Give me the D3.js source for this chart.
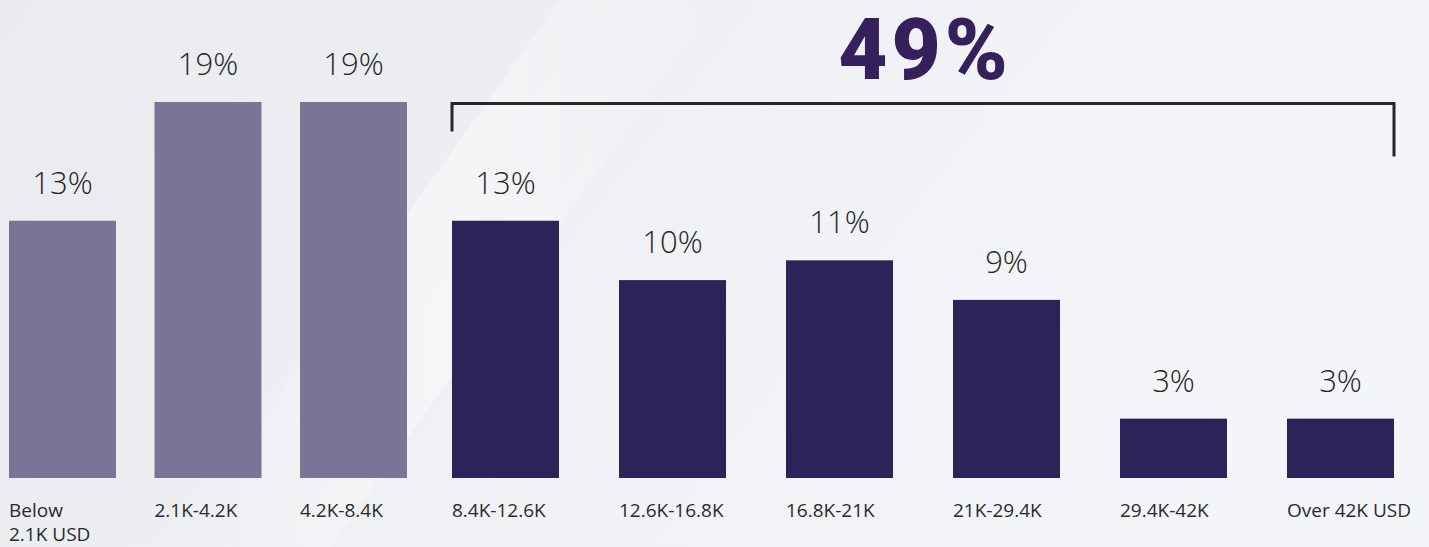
<!DOCTYPE html>
<html>
<head>
<meta charset="utf-8">
<script src="https://cdn.jsdelivr.net/npm/d3@7"></script>
<style>
  html, body { margin: 0; padding: 0; background: #eef0f3; }
  svg { display: block; }
</style>
</head>
<body>
<svg id="chart" width="1429" height="547"></svg>
<script>
// Income brackets (annual, USD) and share of respondents in each
const categories = ["Below|2.1K USD", "2.1K-4.2K", "4.2K-8.4K", "8.4K-12.6K", "12.6K-16.8K",
                    "16.8K-21K", "21K-29.4K", "29.4K-42K", "Over 42K USD"];
const shares = [13, 19, 19, 13, 10, 11, 9, 3, 3];
// Brackets from 8.4K upward are grouped together under the headline total
const highlighted = [false, false, false, true, true, true, true, true, true];
const groupTotal = "49%";

const W = 1429, H = 547;
const svg = d3.select("#chart");

// Background wash
const defs = svg.append("defs");
const bg = defs.append("linearGradient").attr("id", "bg")
  .attr("x1", "0%").attr("y1", "0%").attr("x2", "100%").attr("y2", "30%");
bg.append("stop").attr("offset", "0%").attr("stop-color", "#e9ebee");
bg.append("stop").attr("offset", "35%").attr("stop-color", "#eceef1");
bg.append("stop").attr("offset", "60%").attr("stop-color", "#f0f2f5");
bg.append("stop").attr("offset", "100%").attr("stop-color", "#f3f5f8");
svg.append("rect").attr("width", W).attr("height", H).attr("fill", "url(#bg)");

const streak = defs.append("linearGradient").attr("id", "streak")
  .attr("x1", "0%").attr("y1", "0%").attr("x2", "100%").attr("y2", "0%");
streak.append("stop").attr("offset", "0%").attr("stop-color", "#ffffff").attr("stop-opacity", 0);
streak.append("stop").attr("offset", "50%").attr("stop-color", "#ffffff").attr("stop-opacity", 0.4);
streak.append("stop").attr("offset", "100%").attr("stop-color", "#ffffff").attr("stop-opacity", 0);
svg.append("path")
  .attr("d", "M560,0 L720,0 L330,547 L170,547 Z")
  .attr("fill", "url(#streak)");

const baseline = 478;
const barWidth = 107;

// Two band scales: the lower brackets, and the grouped upper brackets
const lowCats = categories.filter((d, i) => !highlighted[i]);
const highCats = categories.filter((d, i) => highlighted[i]);
const xLow = d3.scaleBand().domain(lowCats).range([9, 407]).paddingOuter(0)
  .paddingInner(1 - barWidth / ((407 - 9 - barWidth) / (lowCats.length - 1)));
const xHigh = d3.scaleBand().domain(highCats).range([452, 1394]).paddingOuter(0)
  .paddingInner(1 - barWidth / ((1394 - 452 - barWidth) / (highCats.length - 1)));
const x = d => (xLow.domain().includes(d) ? xLow(d) : xHigh(d));
const bw = d => (xLow.domain().includes(d) ? xLow.bandwidth() : xHigh.bandwidth());

const y = d3.scaleLinear()
  .domain([0, 19])
  .range([baseline, 102]);

const font = "'Open Sans', 'Noto Sans', sans-serif";

// Bars
svg.append("g").selectAll("rect")
  .data(categories)
  .join("rect")
  .attr("x", d => x(d))
  .attr("width", d => bw(d))
  .attr("y", (d, i) => y(shares[i]))
  .attr("height", (d, i) => y(0) - y(shares[i]))
  .attr("fill", (d, i) => highlighted[i] ? "#2d2359" : "#787597");

// Value labels above bars
svg.append("g").selectAll("text")
  .data(categories)
  .join("text")
  .attr("x", d => x(d) + bw(d) / 2)
  .attr("y", (d, i) => y(shares[i]) - 27)
  .attr("text-anchor", "middle")
  .attr("font-family", font)
  .attr("font-weight", 300)
  .attr("font-size", 31)
  .attr("fill", "#262626")
  .text((d, i) => shares[i] + "%");

// Category labels under bars (left aligned, "|" splits lines)
const cat = svg.append("g").selectAll("text")
  .data(categories)
  .join("text")
  .attr("x", d => x(d))
  .attr("y", 517)
  .attr("font-family", font)
  .attr("font-size", 19)
  .attr("fill", "#2a2a2a");
cat.each(function(d) {
  const t = d3.select(this);
  d.split("|").forEach((line, k) => {
    t.append("tspan").attr("x", x(d)).attr("dy", k === 0 ? 0 : 24).text(line);
  });
});

// Bracket over the highlighted group
const bx0 = x(highCats[0]);
const bx1 = x(highCats[highCats.length - 1]) + bw(highCats[highCats.length - 1]);
const by = y(19) + 1.5;
svg.append("path")
  .attr("d", `M${bx0},${by + 28} V${by} H${bx1} V${by + 53}`)
  .attr("fill", "none")
  .attr("stroke", "#262626")
  .attr("stroke-width", 3);

// Headline total for the grouped brackets
svg.append("text")
  .attr("x", (bx0 + bx1) / 2 + 2)
  .attr("y", 79)
  .attr("text-anchor", "middle")
  .attr("font-family", "Roboto, 'Liberation Sans', sans-serif")
  .attr("font-weight", 900)
  .attr("font-size", 85)
  .attr("letter-spacing", 4)
  .attr("fill", "#36205c")
  .text(groupTotal);
</script>
</body>
</html>
